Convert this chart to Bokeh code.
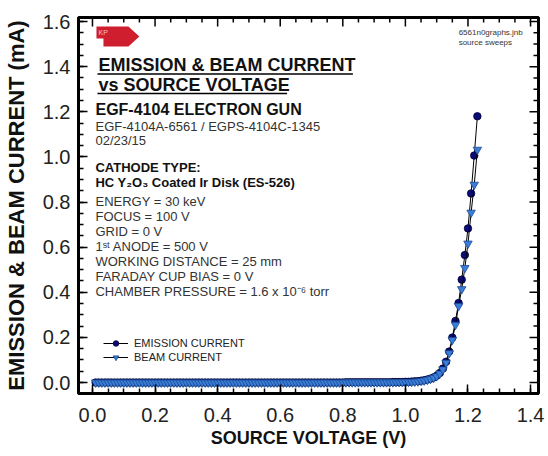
from bokeh.plotting import figure
from bokeh.models import (Range1d, SingleIntervalTicker, Label,
                          Legend, LegendItem, PrintfTickFormatter)
from bokeh.embed import file_html
from bokeh.resources import INLINE

# ---------------- data ----------------
voltage = [
    0.01, 0.02, 0.03, 0.04, 0.05, 0.06, 0.07, 0.08, 0.09, 0.10,
    0.11, 0.12, 0.13, 0.14, 0.15, 0.16, 0.17, 0.18, 0.19, 0.20,
    0.21, 0.22, 0.23, 0.24, 0.25, 0.26, 0.27, 0.28, 0.29, 0.30,
    0.31, 0.32, 0.33, 0.34, 0.35, 0.36, 0.37, 0.38, 0.39, 0.40,
    0.41, 0.42, 0.43, 0.44, 0.45, 0.46, 0.47, 0.48, 0.49, 0.50,
    0.51, 0.52, 0.53, 0.54, 0.55, 0.56, 0.57, 0.58, 0.59, 0.60,
    0.61, 0.62, 0.63, 0.64, 0.65, 0.66, 0.67, 0.68, 0.69, 0.70,
    0.71, 0.72, 0.73, 0.74, 0.75, 0.76, 0.77, 0.78, 0.79, 0.80,
    0.81, 0.82, 0.83, 0.84, 0.85, 0.86, 0.87, 0.88, 0.89, 0.90,
    0.91, 0.92, 0.93, 0.94, 0.95, 0.96, 0.97, 0.98, 0.99, 1.00,
    1.01, 1.02, 1.03, 1.04, 1.05, 1.06, 1.07, 1.08, 1.09, 1.10,
    1.11, 1.12, 1.13, 1.14, 1.15, 1.16, 1.17, 1.18, 1.19, 1.20,
    1.21, 1.22, 1.23,
]
emission_current = [
    0.0, 0.0, 0.0, 0.0, 0.0, 0.0, 0.0, 0.0, 0.0, 0.0,
    0.0, 0.0, 0.0, 0.0, 0.0, 0.0, 0.0, 0.0, 0.0, 0.0,
    0.0, 0.0, 0.0, 0.0, 0.0, 0.0, 0.0, 0.0, 0.0, 0.0,
    0.0, 0.0, 0.0, 0.0, 0.0, 0.0, 0.0, 0.0, 0.0, 0.0,
    0.0, 0.0, 0.0, 0.0, 0.0, 0.0, 0.0, 0.0, 0.0, 0.0,
    0.0, 0.0, 0.0, 0.0, 0.0, 0.0, 0.0, 0.0, 0.0, 0.0,
    0.0, 0.0, 0.0, 0.0, 0.0, 0.0, 0.0, 0.0, 0.0, 0.0,
    0.0, 0.0, 0.0, 0.0, 0.0, 0.0, 0.0, 0.0, 0.0, 0.0,
    0.001, 0.001, 0.001, 0.001, 0.001, 0.001, 0.001, 0.001, 0.001, 0.001,
    0.001, 0.001, 0.001, 0.001, 0.001, 0.002, 0.002, 0.002, 0.002, 0.003,
    0.003, 0.004, 0.005, 0.006, 0.008, 0.010, 0.013, 0.017, 0.022, 0.030,
    0.042, 0.062, 0.092, 0.137, 0.199, 0.273, 0.352, 0.456, 0.565, 0.683,
    0.838, 1.006, 1.180,
]
beam_current = [
    0.0, 0.0, 0.0, 0.0, 0.0, 0.0, 0.0, 0.0, 0.0, 0.0,
    0.0, 0.0, 0.0, 0.0, 0.0, 0.0, 0.0, 0.0, 0.0, 0.0,
    0.0, 0.0, 0.0, 0.0, 0.0, 0.0, 0.0, 0.0, 0.0, 0.0,
    0.0, 0.0, 0.0, 0.0, 0.0, 0.0, 0.0, 0.0, 0.0, 0.0,
    0.0, 0.0, 0.0, 0.0, 0.0, 0.0, 0.0, 0.0, 0.0, 0.0,
    0.0, 0.0, 0.0, 0.0, 0.0, 0.0, 0.0, 0.0, 0.0, 0.0,
    0.0, 0.0, 0.0, 0.0, 0.0, 0.0, 0.0, 0.0, 0.0, 0.0,
    0.0, 0.0, 0.0, 0.0, 0.0, 0.0, 0.0, 0.0, 0.0, 0.0,
    0.001, 0.001, 0.001, 0.001, 0.001, 0.001, 0.001, 0.001, 0.001, 0.001,
    0.001, 0.001, 0.001, 0.001, 0.001, 0.001, 0.002, 0.002, 0.002, 0.002,
    0.003, 0.003, 0.004, 0.005, 0.007, 0.009, 0.012, 0.016, 0.021, 0.028,
    0.040, 0.058, 0.088, 0.130, 0.189, 0.256, 0.339, 0.414, 0.508, 0.616,
    0.753, 0.877, 1.032,
]

# ---------------- geometry helpers (picture pixel -> data) ----------------
X0PX, XS = 91.0, 313.6     # x=0 at picture px 91, 313.6 px per volt
Y0PX, YS = 382.0, 225.6    # y=0 at picture px 382, 225.6 px per mA


def dx(px):
    return (px - X0PX) / XS


def dy(py):
    return (Y0PX - py) / YS


FONT = "Liberation Sans"
XMIN, XMAX = dx(77), dx(538)
YMIN, YMAX = dy(393), dy(17)

p = figure(width=548, height=456, output_backend="svg", toolbar_location=None,
           x_range=Range1d(XMIN, XMAX), y_range=Range1d(YMIN, YMAX),
           min_border_left=77, min_border_right=10, min_border_top=17,
           min_border_bottom=63)
p.grid.visible = False
p.outline_line_color = "black"
p.outline_line_width = 3
p.background_fill_color = "white"
p.border_fill_color = "white"

p.xaxis.ticker = SingleIntervalTicker(interval=0.2, num_minor_ticks=4)
p.yaxis.ticker = SingleIntervalTicker(interval=0.2, num_minor_ticks=4)

for ax in (p.xaxis[0], p.yaxis[0]):
    ax.formatter = PrintfTickFormatter(format="%.1f")
    ax.axis_line_color = "black"
    ax.axis_line_width = 3
    ax.major_tick_in = 9
    ax.major_tick_out = 0
    ax.minor_tick_in = 5
    ax.minor_tick_out = 0
    ax.major_tick_line_width = 1.5
    ax.minor_tick_line_width = 1.5
    ax.major_tick_line_color = "black"
    ax.minor_tick_line_color = "black"
    ax.major_label_text_font = FONT
    ax.major_label_text_font_size = "20px"
    ax.major_label_text_color = "#222222"
    ax.axis_label_text_font = FONT
    ax.axis_label_text_font_style = "bold"
    ax.axis_label_text_color = "#111111"

bx = p.xaxis[0]
bx.major_label_standoff = 14
bx.axis_label = "SOURCE VOLTAGE (V)"
bx.axis_label_text_font_size = "18px"
bx.axis_label_standoff = 3

ly = p.yaxis[0]
ly.major_label_standoff = 8
ly.axis_label = "EMISSION & BEAM CURRENT (mA)"
ly.axis_label_text_font_size = "22px"
ly.axis_label_standoff = 11

# mirrored inward ticks on the top and right edges (decoration)
tick_x = [round(0.05 * i, 2) for i in range(-1, 29)]
tick_y = [round(0.05 * i, 2) for i in range(-1, 33)]
tick_x = [t for t in tick_x if XMIN < t < XMAX]
tick_y = [t for t in tick_y if YMIN < t < YMAX]


def is_major(t):
    return abs(t / 0.2 - round(t / 0.2)) < 1e-6


p.segment(tick_x, [YMAX] * len(tick_x), tick_x,
          [YMAX - (9 if is_major(t) else 5) / YS for t in tick_x],
          line_color="black", line_width=1.5)
p.segment([XMAX] * len(tick_y), tick_y,
          [XMAX - (9 if is_major(t) else 5) / XS for t in tick_y], tick_y,
          line_color="black", line_width=1.5)

# ---------------- series ----------------
e_line = p.line(voltage, emission_current, line_color="black", line_width=1)
e_pts = p.scatter(voltage, emission_current, marker="circle", size=7.5,
                  fill_color="#0a0a78", line_color="#000033", line_width=0.8)
b_line = p.line(voltage, beam_current, line_color="black", line_width=1)
b_pts = p.scatter(voltage, beam_current, marker="inverted_triangle", size=8.5,
                  fill_color="#3a7dd6", line_color="#1b4a94", line_width=0.8)

legend = Legend(items=[LegendItem(label="EMISSION CURRENT", renderers=[e_line, e_pts]),
                       LegendItem(label="BEAM CURRENT", renderers=[b_line, b_pts])],
                location=(25, 29), orientation="vertical", padding=0, margin=0,
                spacing=0, glyph_width=25, glyph_height=14, label_height=14,
                label_standoff=6, label_text_font=FONT, label_text_font_size="11px",
                label_text_color="#222222", border_line_color=None,
                background_fill_alpha=0)
p.add_layout(legend, "center")

# ---------------- annotations ----------------
def add_text(txt, px, py_base, size, bold=False, color="#333333"):
    # py_base is the wanted baseline; the label box is anchored at its middle
    p.add_layout(Label(x=dx(px), y=dy(py_base - 0.35 * size), text=txt,
                       text_font=FONT, text_font_size=f"{size}px",
                       text_font_style="bold" if bold else "normal",
                       text_color=color, text_baseline="middle",
                       text_align="left"))


TX = 94      # left edge of the text block
# KP logo
logo_px = [95, 127, 138, 127, 102, 102, 95]
logo_py = [26, 26, 36, 46, 46, 38, 38]
p.patch([dx(v) for v in logo_px], [dy(v) for v in logo_py],
        fill_color="#cf1f2e", line_color=None)
add_text("KP", 97, 34, 7, color="#f4c0c0")

add_text("EMISSION & BEAM CURRENT", 97, 71, 18, bold=True, color="#111111")
add_text("vs SOURCE VOLTAGE", 97, 90.5, 18, bold=True, color="#111111")
p.segment([dx(96), dx(96)], [dy(73.5), dy(93)], [dx(352), dx(286)],
          [dy(73.5), dy(93)], line_color="black", line_width=1.6)

add_text("EGF-4104 ELECTRON GUN", TX, 114.7, 16, bold=True, color="#111111")
add_text("EGF-4104A-6561 / EGPS-4104C-1345", TX, 130.3, 13)
add_text("02/23/15", TX, 144.7, 13)
add_text("CATHODE TYPE:", TX, 172, 13, bold=True, color="#111111")
add_text("HC Y\u2082O\u2083 Coated Ir Disk (ES-526)", TX, 186.7, 13, bold=True,
         color="#111111")
add_text("ENERGY = 30 keV", TX, 206, 13)
add_text("FOCUS = 100 V", TX, 221, 13)
add_text("GRID = 0 V", TX, 236, 13)
add_text("1\u02e2\u1d57 ANODE = 500 V", TX, 251, 13)
add_text("WORKING DISTANCE = 25 mm", TX, 266, 13)
add_text("FARADAY CUP BIAS = 0 V", TX, 280.5, 13)
add_text("CHAMBER PRESSURE = 1.6 x 10\u207b\u2076 torr", TX, 295.3, 13)

add_text("6561n0graphs.jnb", 458, 35, 8, color="#333333")
add_text("source sweeps", 458, 45, 8, color="#333333")

open("out.html", "w").write(file_html(p, INLINE))
